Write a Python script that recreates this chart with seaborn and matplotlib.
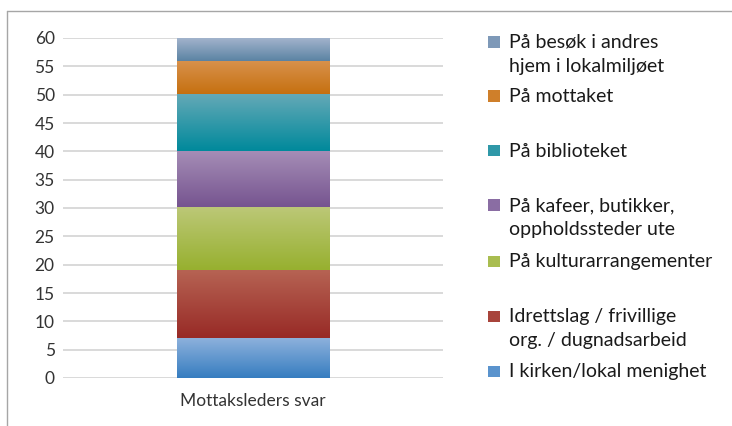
import numpy as np
import pandas as pd
import seaborn as sns
import matplotlib.pyplot as plt
from matplotlib.patches import Rectangle
from matplotlib.lines import Line2D
from matplotlib.colors import to_rgb

# data, bottom segment first
category = "Mottaksleders svar"
labels = [
    "I kirken/lokal menighet",
    "Idrettslag / frivillige\norg. / dugnadsarbeid",
    "På kulturarrangementer",
    "På kafeer, butikker,\noppholdssteder ute",
    "På biblioteket",
    "På mottaket",
    "På besøk i andres\nhjem i lokalmiljøet",
]
values = [7, 12, 11, 10, 10, 6, 4]

# Excel-like gradient fills (light at top, dark at bottom)
top_colors = ["#8DB1DC", "#B66353", "#BCC877", "#A58DB6", "#64A9B7", "#D8914B", "#A2B3CC"]
bottom_colors = ["#367DC0", "#982A26", "#97B02F", "#75538F", "#00899B", "#C56F0E", "#5B83A3"]
legend_colors = ["#5A93CD", "#A8443B", "#A9BD50", "#8A6DA3", "#2F98A8", "#CF7F2A", "#7E99B8"]

df = pd.DataFrame({"label": labels, "value": values})
df["top"] = df["value"].cumsum()
df["bottom"] = df["top"] - df["value"]

sns.set_style("white")
plt.rcParams["font.family"] = ["Lato", "DejaVu Sans"]

W, H = 732, 426
fig = plt.figure(figsize=(W / 100, H / 100), dpi=100)
ax = fig.add_axes([63 / W, 1 - 378 / H, (443 - 63) / W, 340 / H])

# stacked bar: tallest cumulative bar first, shorter ones drawn over it
order = list(reversed(range(len(df))))
for i in order:
    sns.barplot(x=[category], y=[df["top"][i]], color=bottom_colors[i],
                width=0.4, saturation=1, errorbar=None, ax=ax)

# replace the flat fills with vertical gradients
for patch, i in zip(ax.patches, order):
    x0 = patch.get_x()
    x1 = x0 + patch.get_width()
    c0 = np.array(to_rgb(bottom_colors[i]))
    c1 = np.array(to_rgb(top_colors[i]))
    t = np.linspace(0, 1, 128)[:, None, None]
    grad = c0 + (c1 - c0) * t
    ax.imshow(grad, extent=(x0, x1, df["bottom"][i], df["top"][i]),
              origin="lower", aspect="auto", zorder=3, interpolation="bilinear")
    patch.set_visible(False)

ax.set_xlim(-0.5, 0.5)
ax.set_ylim(0, 60)
ax.set_yticks(range(0, 61, 5))
ax.yaxis.grid(True, color="#D9D9D9", linewidth=1.4)
ax.set_axisbelow(True)
for s in ax.spines.values():
    s.set_visible(False)
ax.tick_params(axis="both", length=0, labelsize=12.5, colors="#333333")
ax.tick_params(axis="y", pad=6)
ax.tick_params(axis="x", pad=11)
ax.set_xlabel("")
ax.set_ylabel("")

# legend drawn by hand so the square sits on the first text line
baselines = [377, 322, 267, 211, 157, 102, 48]
for i, lab in enumerate(labels):
    yb = baselines[i]
    fig.add_artist(Rectangle((488 / W, 1 - (yb - 0.5) / H), 12 / W, 11 / H,
                             transform=fig.transFigure, color=legend_colors[i], lw=0))
    for k, line in enumerate(lab.split("\n")):
        fig.text(509 / W, 1 - (yb + 24 * k) / H, line, fontsize=14, color="#1A1A1A",
                 va="baseline", ha="left")

# chart area border (top and left edges only)
fig.add_artist(Line2D([7 / W, 1], [1 - 11 / H] * 2, transform=fig.transFigure,
                      color="#A6A6A6", lw=1))
fig.add_artist(Line2D([7 / W] * 2, [0, 1 - 11 / H], transform=fig.transFigure,
                      color="#A6A6A6", lw=1))

fig.savefig("out.png", dpi=100)
